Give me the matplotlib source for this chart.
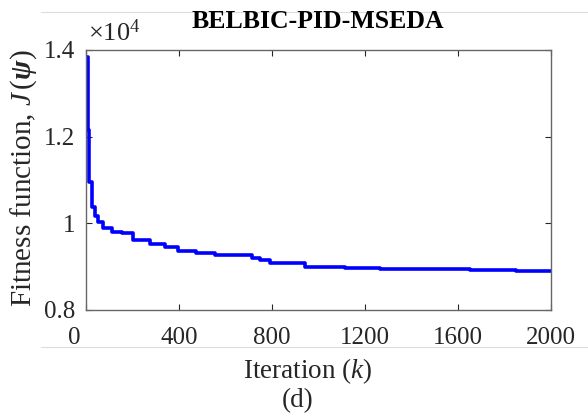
import matplotlib
matplotlib.use("Agg")
import matplotlib.pyplot as plt
import matplotlib.transforms as mtransforms
from matplotlib.lines import Line2D

plt.rcParams["font.family"] = ["Liberation Serif", "DejaVu Serif"]
plt.rcParams["mathtext.fontset"] = "custom"
plt.rcParams["mathtext.rm"] = "Liberation Serif"
plt.rcParams["mathtext.it"] = "Liberation Serif:italic"
plt.rcParams["mathtext.bf"] = "Liberation Serif:italic:bold"

# best fitness per iteration (step changes only)
iterations = [4, 10, 15, 24, 37, 50, 71, 110, 153, 200, 275, 340, 395, 475,
              553, 713, 747, 790, 940, 1000, 1113, 1264, 1465, 1650, 1850, 2000]
fitness = [1.384, 1.215, 1.095, 1.038, 1.016, 1.003, 0.989, 0.980, 0.977,
           0.962, 0.953, 0.945, 0.937, 0.932, 0.928, 0.921, 0.915, 0.908,
           0.8995, 0.8985, 0.897, 0.8955, 0.8935, 0.8915, 0.8905, 0.889]
fitness = [v * 1e4 for v in fitness]

xticks = [0, 400, 800, 1200, 1600, 2000]
yticks = [0.8e4, 1.0e4, 1.2e4, 1.4e4]
ytick_labels = ["0.8", "1", "1.2", "1.4"]

W, H = 588, 416
fig = plt.figure(figsize=(W / 100, H / 100), dpi=100)
ax = fig.add_axes([86 / W, 1 - 310 / H, (551 - 86) / W, 260 / H])

ax.step(iterations, fitness, where="post", color="#0000ff", lw=2.6)

ax.set_xlim(0, 2000)
ax.set_ylim(0.8e4, 1.4e4)
ax.set_xticks(xticks)
ax.set_yticks(yticks)
ax.set_yticklabels(ytick_labels)
ax.tick_params(direction="in", length=4, width=0.8, colors="#262626",
               labelsize=18, top=True, right=True)
ax.tick_params(axis="x", pad=12)
ax.tick_params(axis="y", pad=8)
for s in ax.spines.values():
    s.set_color("#666666")
    s.set_linewidth(1.0)

# nudge the "0" label left a bit
first = ax.get_xticklabels()[0]
first.set_transform(first.get_transform() +
                    mtransforms.ScaledTranslation(-0.12, 0, fig.dpi_scale_trans))

fig.text(88 / W, 1 - 33 / H, r"$\times10^4$", fontsize=19, color="#262626",
         ha="left", va="center")
fig.text(318 / W, 1 - 21 / H, "BELBIC-PID-MSEDA", fontsize=18.5,
         fontweight="bold", ha="center", va="center")
fig.text(24 / W, 1 - 178 / H, r"Fitness function, $J\,(\mathbf{\psi})$",
         fontsize=21, rotation=90, ha="center", va="center", color="#262626")
fig.text(308 / W, 1 - 371 / H, "Iteration ($k$)", fontsize=19.5,
         ha="center", va="center", color="#262626")
fig.text(298 / W, 1 - 401 / H, "(d)", fontsize=19.5,
         ha="center", va="center", color="#262626")

# faint panel borders
for yy in (12, 347):
    fig.add_artist(Line2D([41 / W, 1], [1 - yy / H, 1 - yy / H],
                          transform=fig.transFigure, color="#dddddd", lw=0.8))

fig.savefig("out.png", dpi=100)
